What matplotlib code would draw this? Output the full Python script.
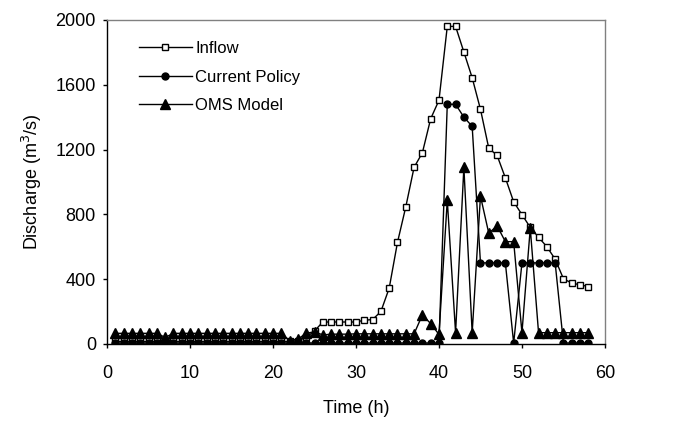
import matplotlib
matplotlib.use("Agg")
import matplotlib.pyplot as plt
import numpy as np

hours = list(range(1, 59))

inflow = [15, 15, 15, 15, 15, 15, 15, 15, 15, 15,
          15, 15, 15, 15, 15, 15, 15, 15, 15, 15,
          15, 15, 20, 40, 80, 135, 135, 135, 135, 135,
          146, 150, 200, 344, 627, 846, 1090, 1180, 1390, 1504,
          1960, 1960, 1802, 1643, 1448, 1208, 1164, 1025, 877, 798,
          719, 658, 600, 523, 402, 375, 365, 354]

current_policy = [5, 5, 5, 5, 5, 5, 5, 5, 5, 5,
                  5, 5, 5, 5, 5, 5, 5, 5, 5, 5,
                  5, 5, 5, 5, 5, 5, 5, 5, 5, 5,
                  5, 5, 5, 5, 5, 5, 5, 5, 5, 5,
                  1479, 1479, 1400, 1343, 500, 500, 500, 500, 5, 500,
                  500, 500, 500, 500, 5, 5, 5, 5]

oms_model = [65, 65, 65, 65, 65, 65, 40, 65, 65, 65,
             65, 65, 65, 65, 65, 65, 65, 65, 65, 65,
             65, 20, 30, 65, 75, 55, 60, 60, 60, 62,
             62, 62, 62, 62, 62, 62, 62, 179, 125, 58,
             887, 69, 1089, 69, 912, 683, 729, 631, 631, 69,
             714, 69, 69, 69, 69, 69, 69, 69]

font = "Liberation Sans"
plt.rcParams['font.family'] = [font, 'DejaVu Sans']

fig = plt.figure(figsize=(6.82, 4.24), dpi=100)
ax = fig.add_axes([0.157, 0.189, 0.730, 0.764])

ax.plot(hours, inflow, color='black', lw=1.0, marker='s', ms=5,
        mfc='white', mec='black', mew=1.0, label='Inflow', zorder=3)
ax.plot(hours, current_policy, color='black', lw=1.0, marker='o', ms=5,
        mfc='black', mec='black', label='Current Policy', zorder=4)
ax.plot(hours, oms_model, color='black', lw=1.0, marker='^', ms=6.5,
        mfc='black', mec='black', label='OMS Model', zorder=5)

ax.set_xlim(0, 60)
ax.set_ylim(0, 2000)
ax.set_xticks(range(0, 61, 10))
ax.set_yticks(range(0, 2001, 400))
ax.tick_params(axis='both', labelsize=13, direction='out', length=3, width=1)
ax.tick_params(axis='x', pad=12)
ax.tick_params(axis='y', pad=5)
ax.set_xlabel('Time (h)', fontsize=13, labelpad=13)
ax.set_ylabel('Discharge (m$^3$/s)', fontsize=13, labelpad=8)

for s in ['left', 'bottom']:
    ax.spines[s].set_color('black')
    ax.spines[s].set_linewidth(1.0)
for s in ['top', 'right']:
    ax.spines[s].set_color('#808080')
    ax.spines[s].set_linewidth(1.0)

leg = ax.legend(loc='upper left', bbox_to_anchor=(0.05, 0.955), frameon=False,
                fontsize=12, handlelength=3.2, handletextpad=0.2, labelspacing=0.8,
                borderaxespad=0)

fig.savefig('out.png', dpi=100)
